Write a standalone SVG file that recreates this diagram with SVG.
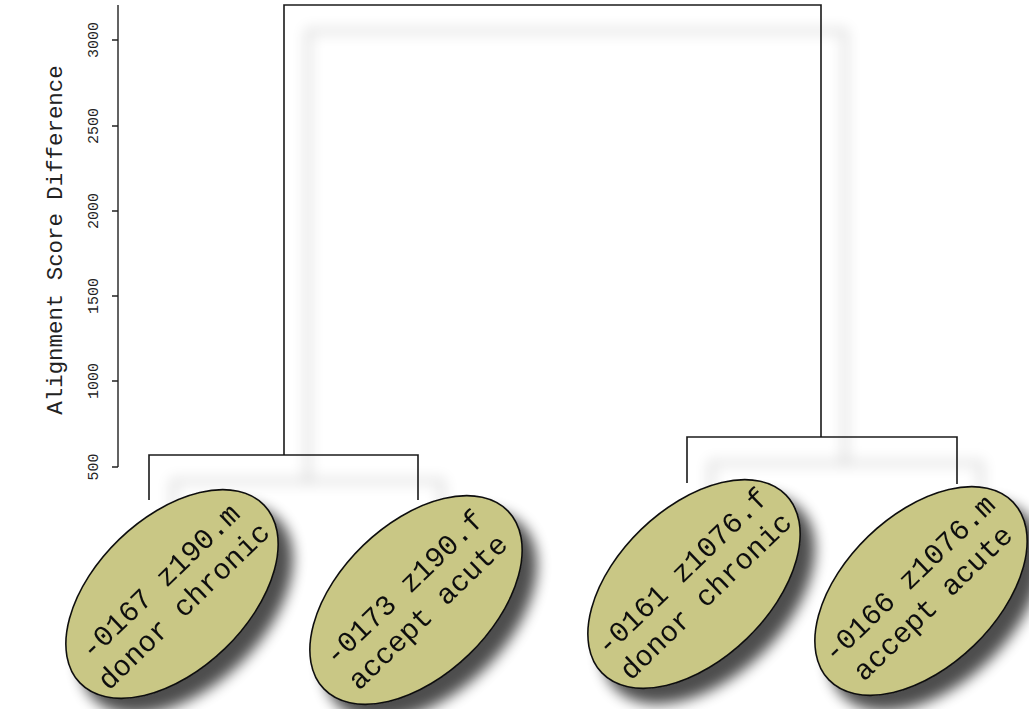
<svg xmlns="http://www.w3.org/2000/svg" width="1029" height="709" viewBox="0 0 1029 709">
  <style>
    .axis { stroke: #222; stroke-width: 1.4; fill: none; }
    .tick { font-family: "Liberation Mono", "DejaVu Sans Mono", monospace; font-size: 15px; fill: #222; text-anchor: middle; }
    .title { font-family: "Liberation Mono", "DejaVu Sans Mono", monospace; font-size: 22.4px; fill: #222; text-anchor: middle; }
    .link { stroke: #1a1a1a; stroke-width: 1.6; fill: none; }
    .leaf { fill: #c9c785; stroke: #111; stroke-width: 1.6; }
    .label { font-family: "Liberation Mono", "DejaVu Sans Mono", monospace; font-size: 29px; fill: #111; text-anchor: middle; }
  </style>
  <defs>
    <filter id="linkShadow" x="-10%" y="-10%" width="130%" height="130%">
      <feGaussianBlur in="SourceAlpha" stdDeviation="7"/>
      <feOffset dx="24" dy="26" result="sh"/>
      <feComponentTransfer in="sh" result="shf"><feFuncA type="linear" slope="0.5"/></feComponentTransfer>
      <feMerge><feMergeNode in="shf"/><feMergeNode in="SourceGraphic"/></feMerge>
    </filter>
    <filter id="leafShadow" x="-30%" y="-30%" width="170%" height="170%">
      <feGaussianBlur in="SourceAlpha" stdDeviation="7"/>
      <feOffset dx="14" dy="15" result="sh"/>
      <feComponentTransfer in="sh" result="shf"><feFuncA type="linear" slope="0.7"/></feComponentTransfer>
      <feMerge><feMergeNode in="shf"/><feMergeNode in="SourceGraphic"/></feMerge>
    </filter>
  </defs>

  <rect width="1029" height="709" fill="#ffffff"/>

  <!-- y axis -->
  <g id="axis">
    <path class="axis" d="M118,5 V467 M112,40 H118 M112,126 H118 M112,211 H118 M112,296 H118 M112,381 H118 M112,467 H118"/>
    <text class="tick" transform="translate(98,40) rotate(-90)">3000</text>
    <text class="tick" transform="translate(98,126) rotate(-90)">2500</text>
    <text class="tick" transform="translate(98,211) rotate(-90)">2000</text>
    <text class="tick" transform="translate(98,296) rotate(-90)">1500</text>
    <text class="tick" transform="translate(98,381) rotate(-90)">1000</text>
    <text class="tick" transform="translate(98,467) rotate(-90)">500</text>
    <text class="title" transform="translate(62,240) rotate(-90)">Alignment Score Difference</text>
  </g>

  <!-- tree branches -->
  <g id="connectors" filter="url(#linkShadow)">
    <path class="link" d="M284,455 V5 H821 V437"/>
    <path class="link" d="M149,500 V455 H418 V500"/>
    <path class="link" d="M687,483 V437 H957 V484"/>
  </g>

  <!-- leaves -->
  <g id="leaf-0167" filter="url(#leafShadow)">
    <g transform="translate(172,594) rotate(-44)">
      <ellipse class="leaf" cx="0" cy="0" rx="128" ry="76"/>
      <text class="label" x="0" y="-8">-0167 z190.m</text>
      <text class="label" x="0" y="26">donor chronic</text>
    </g>
  </g>
  <g id="leaf-0173" filter="url(#leafShadow)">
    <g transform="translate(416,600) rotate(-44)">
      <ellipse class="leaf" cx="0" cy="0" rx="128" ry="76"/>
      <text class="label" x="0" y="-8">-0173 z190.f</text>
      <text class="label" x="0" y="26">accept acute</text>
    </g>
  </g>
  <g id="leaf-0161" filter="url(#leafShadow)">
    <g transform="translate(694,584) rotate(-44)">
      <ellipse class="leaf" cx="0" cy="0" rx="128" ry="76"/>
      <text class="label" x="0" y="-8">-0161 z1076.f</text>
      <text class="label" x="0" y="26">donor chronic</text>
    </g>
  </g>
  <g id="leaf-0166" filter="url(#leafShadow)">
    <g transform="translate(921,591) rotate(-44)">
      <ellipse class="leaf" cx="0" cy="0" rx="128" ry="76"/>
      <text class="label" x="0" y="-8">-0166 z1076.m</text>
      <text class="label" x="0" y="26">accept acute</text>
    </g>
  </g>
</svg>
